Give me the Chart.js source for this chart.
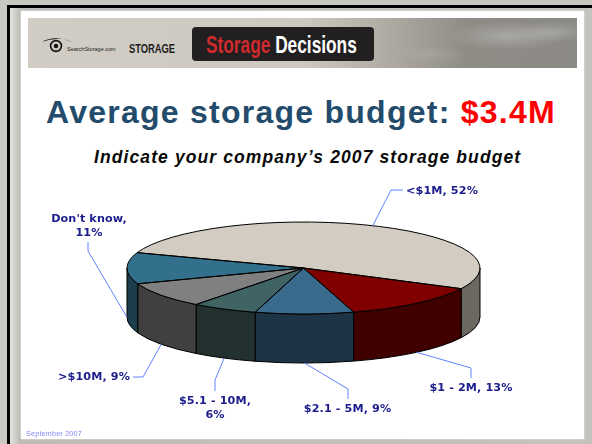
<!DOCTYPE html>
<html>
<head>
<meta charset="utf-8">
<style>
html,body{margin:0;padding:0;background:#fff;}
#stage{position:relative;width:592px;height:444px;overflow:hidden;background:#c9c7c2;font-family:"Liberation Sans",Arial,sans-serif;filter:blur(.35px);}
#stage div{position:absolute;white-space:nowrap;}
#edgeTop{left:7px;top:5px;width:585px;height:3px;background:#000;}
#edgeLeft{left:7px;top:5px;width:3px;height:439px;background:#000;}
#shade{left:10px;top:8px;width:582px;height:436px;background:linear-gradient(90deg,#e4e3df 0,#bdbbb6 10px,#c4c2bd 100%);}
#slide{left:21px;top:11px;width:563px;height:428px;background:#fff;box-shadow:0 0 2px #eee;}
#banner{left:28px;top:18px;width:549px;height:50px;background:
  radial-gradient(ellipse 60px 14px at 480px 18px,rgba(190,190,185,.55),transparent),
  radial-gradient(ellipse 40px 10px at 525px 14px,rgba(185,185,180,.5),transparent),
  radial-gradient(ellipse 40px 8px at 400px 36px,rgba(175,172,166,.5),transparent),
  linear-gradient(90deg,#d1cdc4 0,#cdc9c0 50%,#b4b0a8 63%,#8f8c86 80%,#8c8a86 100%);}
#box{left:192px;top:27px;width:182px;height:34px;border-radius:4px;background:#221f20;}
#sd{left:206px;top:31px;font:bold 24px "Liberation Sans";color:#fff;transform-origin:0 0;transform:scaleX(.72);}
#sd b{color:#cf2a2e;}
#site{left:67px;top:46px;font:5.5px "Liberation Sans";color:#222;}
#stor{left:129px;top:41px;font:bold 13px "Liberation Sans";color:#1c1c1c;transform-origin:0 0;transform:scaleX(.72);}
#eye{left:41px;top:37px;}
#title{left:46px;top:94px;font:bold 32px "Liberation Sans";letter-spacing:1.25px;color:#234b6b;}
#title b{color:#fe0000;}
#sub{left:94px;top:147px;font:italic bold 17.5px "Liberation Sans";letter-spacing:1.1px;color:#0a0a0a;}
#foot{left:26px;top:429px;font:7.2px "Liberation Sans";color:#8585f5;letter-spacing:.2px;}
canvas{position:absolute;left:0;top:0;}
</style>
</head>
<body>
<div id="stage">
  <div id="shade"></div>
  <div id="edgeTop"></div>
  <div id="edgeLeft"></div>
  <div id="slide"></div>
  <div id="banner"></div>
  <div id="box"></div>
  <div id="sd"><b>Storage</b> Decisions</div>
  <div id="eye"><svg width="36" height="18" viewBox="0 0 36 18"><path d="M1 5 Q14 -3 33 6 Q22 1 16 2 Q8 2 1 5Z" fill="#111"/><circle cx="15" cy="9" r="5.4" fill="none" stroke="#111" stroke-width="1.6"/><circle cx="15" cy="9" r="2.2" fill="#111"/></svg></div>
  <div id="site">SearchStorage.com</div>
  <div id="stor">STORAGE</div>
  <div id="title">Average storage budget: <b>$3.4M</b></div>
  <div id="sub">Indicate your company’s 2007 storage budget</div>
  <canvas id="chart" width="592" height="444"></canvas>
  <div id="foot">September 2007</div>
</div>
<script src="https://cdn.jsdelivr.net/npm/chart.js@4/dist/chart.umd.min.js"></script>
<script>
// --- data ---
const categories = ["<$1M", "$1 - 2M", "$2.1 - 5M", "$5.1 - 10M", ">$10M", "Don't know"];
const shares = [52, 13, 9, 6, 9, 11];

// --- styles ---
const topColors  = ["#d2ccc3", "#800000", "#3a6a8c", "#406464", "#808080", "#33708c"];
const wallColors = ["#6b6761", "#400000", "#1c3446", "#223030", "#404040", "#1c3e4c"];
const labelColor = "#1c1c8c";
const leaderColor = "#5f82ff";

// --- layout of the tilted pie and of its call-outs ---
const pie = {cx: 303.5, cy: 268, rx: 176.5, ry: 46, depth: 49, rotation: -70.5};
const callouts = [
  {rows: ["<$1M, 52%"],            x: 442, y: 191, tail: [403, 190], knee: [391, 190]},
  {rows: ["$1 - 2M, 13%"],         x: 471, y: 388, tail: [471, 378], knee: [471, 368]},
  {rows: ["$2.1 - 5M, 9%"],        x: 347.5, y: 409, tail: [348, 399], knee: [348, 389]},
  {rows: ["$5.1 - 10M,", "6%"],    x: 215, y: 401, tail: [215, 391], knee: [215, 380]},
  {rows: [">$10M, 9%"],            x: 94, y: 377, tail: [133, 377], knee: [143, 377]},
  {rows: ["Don't know,", "11%"],   x: 89, y: 219, tail: [88, 242], knee: [88, 251]}
];

const px = (a) => pie.cx + pie.rx * Math.cos(a);
const py = (a) => pie.cy + pie.ry * Math.sin(a);

function frontSpans(a0, a1) {
  const spans = [];
  for (const k of [-2 * Math.PI, 0, 2 * Math.PI]) {
    const s = Math.max(a0, k), e = Math.min(a1, k + Math.PI);
    if (e > s) spans.push([s, e]);
  }
  return spans;
}

const tiltedPie = {
  id: "tiltedPie",
  beforeDatasetsDraw(chart) {
    const ctx = chart.ctx;
    const arcs = chart.getDatasetMeta(0).data;
    ctx.save();
    ctx.strokeStyle = "#000";
    ctx.lineWidth = 1;
    arcs.forEach((arc, i) => {
      for (const [s, e] of frontSpans(arc.startAngle, arc.endAngle)) {
        ctx.beginPath();
        ctx.ellipse(pie.cx, pie.cy, pie.rx, pie.ry, 0, s, e);
        ctx.lineTo(px(e), py(e) + pie.depth);
        ctx.ellipse(pie.cx, pie.cy + pie.depth, pie.rx, pie.ry, 0, e, s, true);
        ctx.closePath();
        ctx.fillStyle = wallColors[i];
        ctx.fill();
        ctx.stroke();
      }
    });
    ctx.restore();
    ctx.save();
    const a = arcs[0];
    ctx.translate(pie.cx, pie.cy);
    ctx.scale(pie.rx / a.outerRadius, pie.ry / a.outerRadius);
    ctx.translate(-a.x, -a.y);
  },
  afterDatasetsDraw(chart) {
    const ctx = chart.ctx;
    ctx.restore();
    const arcs = chart.getDatasetMeta(0).data;
    ctx.save();
    ctx.strokeStyle = "#000";
    ctx.lineWidth = 1;
    arcs.forEach((arc) => {
      ctx.beginPath();
      ctx.moveTo(pie.cx, pie.cy);
      ctx.ellipse(pie.cx, pie.cy, pie.rx, pie.ry, 0, arc.startAngle, arc.endAngle);
      ctx.closePath();
      ctx.stroke();
    });
    ctx.strokeStyle = leaderColor;
    ctx.font = "bold 11.2px 'DejaVu Sans'";
    ctx.letterSpacing = "0.1px";
    ctx.textAlign = "center";
    ctx.textBaseline = "middle";
    arcs.forEach((arc, i) => {
      const c = callouts[i];
      const mid = (arc.startAngle + arc.endAngle) / 2;
      const front = Math.sin(mid) > -0.001;
      ctx.beginPath();
      ctx.moveTo(px(mid), py(mid) + (front ? pie.depth : 0));
      ctx.lineTo(c.knee[0], c.knee[1]);
      ctx.lineTo(c.tail[0], c.tail[1]);
      ctx.stroke();
      ctx.fillStyle = labelColor;
      c.rows.forEach((row, r) => ctx.fillText(row, c.x, c.y + r * 14));
    });
    ctx.restore();
  }
};

new Chart(document.getElementById("chart"), {
  type: "pie",
  data: {
    labels: categories,
    datasets: [{data: shares, backgroundColor: topColors, borderWidth: 0}]
  },
  options: {
    responsive: false,
    animation: false,
    rotation: pie.rotation,
    radius: 170,
    events: [],
    layout: {padding: 0},
    plugins: {legend: {display: false}, tooltip: {enabled: false}, title: {display: false}}
  },
  plugins: [tiltedPie]
});
</script>
</body>
</html>
